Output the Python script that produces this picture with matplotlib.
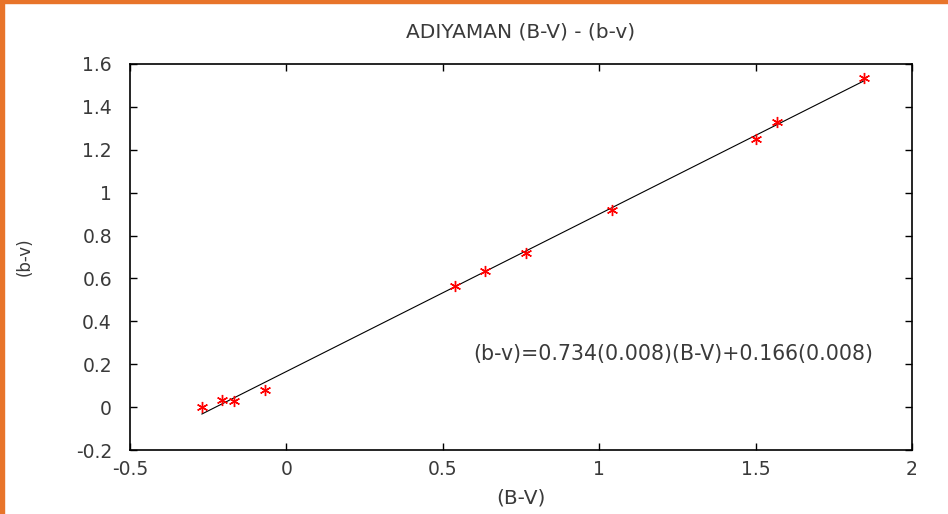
import numpy as np
import matplotlib.pyplot as plt
from matplotlib.patches import Rectangle

# measured colours (B-V) and (b-v)
BV = [-0.27, -0.206, -0.167, -0.068, 0.539, 0.634, 0.765, 1.04, 1.50, 1.567, 1.848]
bv = [0.002, 0.033, 0.028, 0.079, 0.564, 0.634, 0.718, 0.919, 1.25, 1.329, 1.535]

slope = 0.734
intercept = 0.166
fit_label = "(b-v)=0.734(0.008)(B-V)+0.166(0.008)"

xticks = [-0.5, 0, 0.5, 1, 1.5, 2]
xticklabels = ["-0.5", "0", "0.5", "1", "1.5", "2"]
yticks = [-0.2, 0, 0.2, 0.4, 0.6, 0.8, 1, 1.2, 1.4, 1.6]
yticklabels = ["-0.2", "0", "0.2", "0.4", "0.6", "0.8", "1", "1.2", "1.4", "1.6"]

plt.rcParams['font.family'] = ['DejaVu Sans']
text_color = '#3a3a3a'

fig = plt.figure(figsize=(9.48, 5.14), dpi=100)
ax = fig.add_axes([0.1371, 0.1245, 0.8249, 0.751])

# fitted line over the data range
xs = np.array([min(BV), max(BV)])
ax.plot(xs, slope * xs + intercept, color='black', linewidth=0.8)

ax.plot(BV, bv, linestyle='none', marker=(6, 2, 0), markersize=8,
        color='red', markeredgewidth=1.0)

ax.set_xlim(-0.5, 2)
ax.set_ylim(-0.2, 1.6)
ax.set_xticks(xticks)
ax.set_xticklabels(xticklabels)
ax.set_yticks(yticks)
ax.set_yticklabels(yticklabels)
ax.tick_params(direction='in', top=True, right=True, length=5, width=1,
               labelsize=13.5, labelcolor=text_color)
ax.tick_params(axis='x', pad=7)
ax.tick_params(axis='y', pad=13)
for s in ax.spines.values():
    s.set_linewidth(1.2)

ax.set_title("ADIYAMAN (B-V) - (b-v)", fontsize=14.5, color=text_color, pad=19)
ax.set_xlabel("(B-V)", fontsize=14.5, color=text_color, labelpad=7)
ax.set_ylabel("(b-v)", fontsize=12, color=text_color, labelpad=30)

ax.text(0.597, 0.247, fit_label, fontsize=14.8, color=text_color, va='center')

# orange frame on top and left edges
fig.patches.append(Rectangle((0, 1 - 3 / 514), 1, 3 / 514, transform=fig.transFigure,
                             color='#E8742A', zorder=10))
fig.patches.append(Rectangle((0, 0), 4 / 948, 1, transform=fig.transFigure,
                             color='#E8742A', zorder=10))

fig.savefig("out.png", dpi=100)
